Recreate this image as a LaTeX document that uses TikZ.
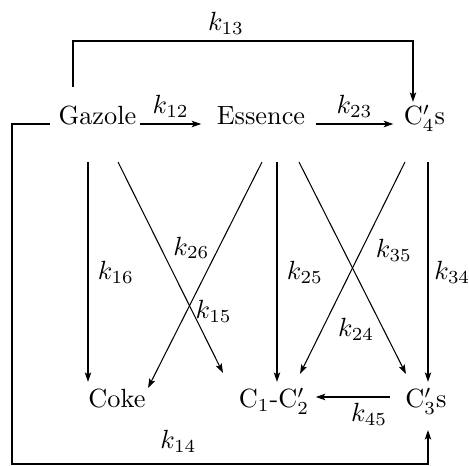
\documentclass[tikz,border=0pt]{standalone}
\usepackage{tikz}
\usetikzlibrary{positioning, arrows.meta, calc}

\tikzset{
  species/.style={inner sep=0pt, anchor=base},
  rxn/.style={line width=0.8pt, -{Stealth[length=3.6pt, width=2.4pt, inset=0.8pt]}},
  rxnthin/.style={line width=0.4pt, -{Stealth[length=3.6pt, width=2.4pt, inset=0.8pt]}},
  rate/.style={inner sep=2pt}
}

\begin{document}
\begin{tikzpicture}[x=0.38pt, y=-0.38pt]
    \useasboundingbox (0,0) rectangle (469,466);
    % species
    \node[species] (gaz) at (97.5,125) {Gazole};
    \node[species] (ess) at (261,125) {Essence};
    \node[species] (cfour) at (424.5,125) {C$'_4$s};
    \node[species] (coke) at (117,408) {Coke};
    \node[species] (cone) at (274,408) {C$_1$-C$'_2$};
    \node[species] (cthree) at (426,408) {C$'_3$s};
    % horizontal reactions
    \draw[rxn] ($(gaz.base east)+(3,-1)$) -- node[rate, above]{$k_{12}$} ($(ess.base west)+(-15,-1)$);
    \draw[rxn] ($(ess.base east)+(10,-1)$) -- node[rate, above]{$k_{23}$} ($(cfour.base west)+(-10,-1)$);
    \draw[rxn] ($(cthree.base west)+(-15,-11)$) -- node[rate, below, pos=0.28]{$k_{45}$} ($(cone.base east)+(6,-11)$);
    % long way round
    \draw[rxn] ($(gaz.base)+(-24.5,-38)$) -- ++(0,-46) -| node[rate, above, pos=0.225]{$k_{13}$} ($(cfour.base)+(-11.5,-23)$);
    \draw[rxn] ($(gaz.base west)+(-8,-1)$) -- ++(-38,0) -- ++(0,340) -| node[rate, above, pos=0.2, yshift=2pt]{$k_{14}$} ($(cthree.base)+(2,22)$);
    % downward reactions
    \draw[rxn] ($(gaz.base)+(-9.5,37)$) -- node[right]{$k_{16}$} ($(coke.base)+(-29,-26)$);
    \draw[rxn] ($(ess.base)+(16,37)$) -- node[right]{$k_{25}$} ($(cone.base)+(3,-26)$);
    \draw[rxn] ($(cfour.base)+(3.5,37)$) -- node[rate, right]{$k_{34}$} ($(cthree.base)+(2,-26)$);
    % crossing reactions
    \draw[rxnthin] ($(gaz.base)+(20.5,37)$) -- node[anchor=west, inner sep=1pt, pos=0.71]{$k_{15}$} ($(cone.base)+(-51,-35)$);
    \draw[rxnthin] ($(ess.base)+(1,37)$) -- node[left, pos=0.38]{$k_{26}$} ($(coke.base)+(31,-20)$);
    \draw[rxnthin] ($(ess.base)+(38,37)$) -- node[left, pos=0.79]{$k_{24}$} ($(cthree.base)+(-20,-34)$);
    \draw[rxnthin] ($(cfour.base)+(-19.5,37)$) -- node[right=2pt, pos=0.415]{$k_{35}$} ($(cone.base)+(26,-34)$);
\end{tikzpicture}
\end{document}
